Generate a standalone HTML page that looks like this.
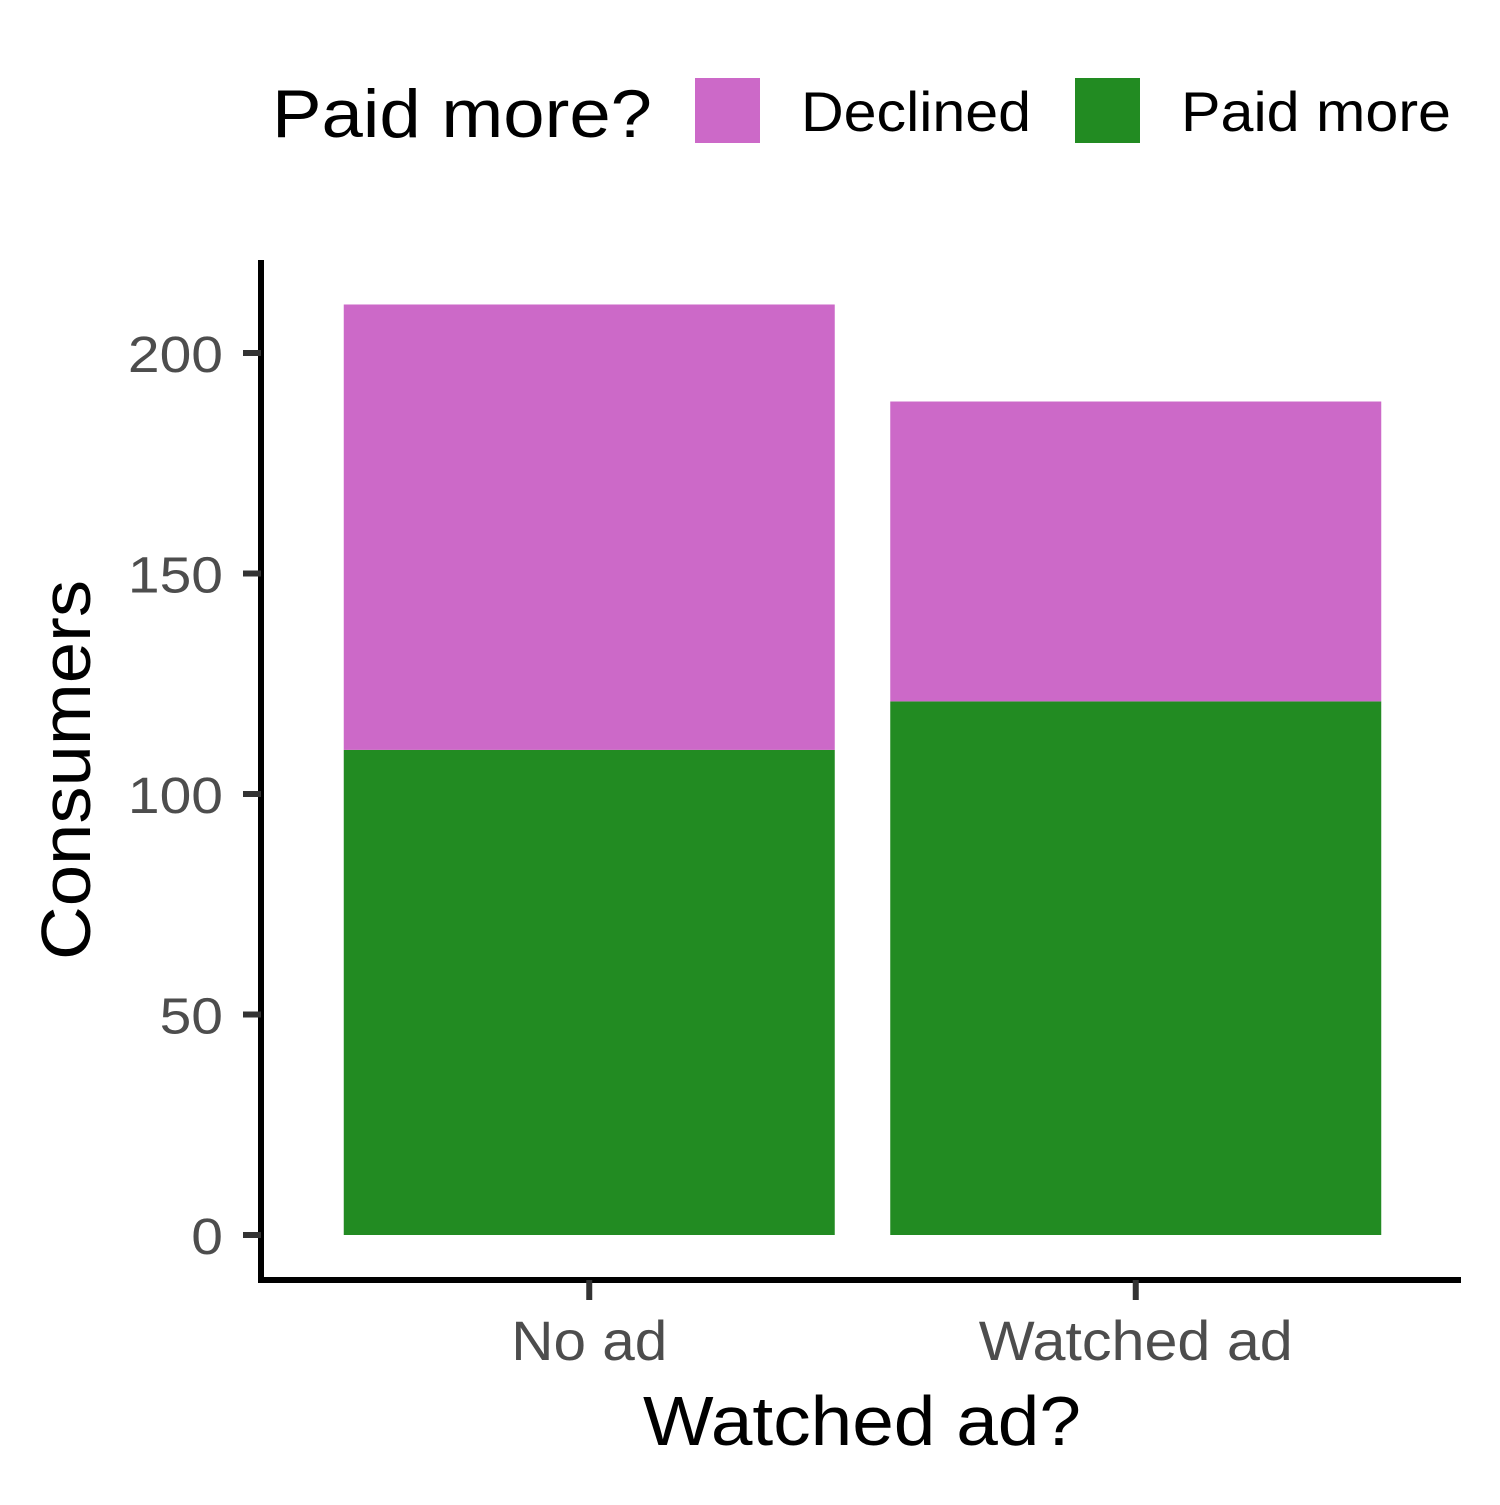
<!DOCTYPE html>
<html><head><meta charset="utf-8"><style>
html,body{margin:0;padding:0;background:#fff}
svg text{font-family:"Liberation Sans",Arial,sans-serif}
</style></head><body>
<svg id="chart" width="1500" height="1500" viewBox="0 0 1500 1500" xmlns="http://www.w3.org/2000/svg">
<g>
<text x="272" y="137" font-size="68" textLength="380" lengthAdjust="spacingAndGlyphs" fill="#000">Paid more?</text>
<rect x="695" y="78" width="65" height="65" fill="#CC69C8"/>
<text x="801" y="131" font-size="56" textLength="230" lengthAdjust="spacingAndGlyphs" fill="#000">Declined</text>
<rect x="1075" y="78" width="65" height="65" fill="#228B22"/>
<text x="1181" y="131" font-size="56" textLength="270" lengthAdjust="spacingAndGlyphs" fill="#000">Paid more</text>
</g>
<g id="bars"></g>
<g id="axes"></g>
<text x="862" y="1445" font-size="70" text-anchor="middle" textLength="438" lengthAdjust="spacingAndGlyphs" fill="#000">Watched ad?</text>
<text transform="translate(90,770) rotate(-90)" font-size="70" text-anchor="middle" textLength="380" lengthAdjust="spacingAndGlyphs" fill="#000">Consumers</text>
</svg>
<script>
const categories = ["No ad", "Watched ad"];
const paidMore = [110, 121];
const declined = [101, 68];
const yTicks = [0, 50, 100, 150, 200];

const NS = "http://www.w3.org/2000/svg";
const y0 = 1235, pxPerUnit = 4.41;
function yScale(v){ return y0 - v * pxPerUnit; }
const xLeft = 261, bandStart = 316, bandStep = 546.5, barW = 491;
function xCenter(i){ return bandStart + bandStep * (i + 0.5); }

const bars = document.getElementById('bars');
function rect(x,y,w,h,fill){
  const r = document.createElementNS(NS,'rect');
  r.setAttribute('x',x); r.setAttribute('y',y); r.setAttribute('width',w); r.setAttribute('height',h); r.setAttribute('fill',fill);
  return r;
}
categories.forEach((c,i)=>{
  const x = xCenter(i) - barW/2;
  const g = rect(x, yScale(paidMore[i]), barW, paidMore[i]*pxPerUnit, '#228B22');
  
  
  bars.appendChild(g);
  const top = paidMore[i] + declined[i];
  const d = rect(x, yScale(top), barW, declined[i]*pxPerUnit, '#CC69C8');
  
  
  bars.appendChild(d);
});

const axes = document.getElementById('axes');
function line(x1,y1,x2,y2,stroke,w){
  const l = document.createElementNS(NS,'line');
  l.setAttribute('x1',x1); l.setAttribute('y1',y1); l.setAttribute('x2',x2); l.setAttribute('y2',y2);
  l.setAttribute('stroke',stroke); l.setAttribute('stroke-width',w);
  return l;
}
function text(x,y,s,anchor,size,fill,len){
  const t = document.createElementNS(NS,'text');
  t.setAttribute('x',x); t.setAttribute('y',y); t.setAttribute('text-anchor',anchor);
  t.setAttribute('font-size',size); t.setAttribute('fill',fill); t.textContent = s;
  if(len){ t.setAttribute('textLength',len); t.setAttribute('lengthAdjust','spacingAndGlyphs'); }
  return t;
}
const yAxis = line(xLeft, 260, xLeft, 1282, '#000', 6);


axes.appendChild(yAxis);
const xAxis = line(258, 1280, 1461, 1280, '#000', 6);


axes.appendChild(xAxis);
yTicks.forEach(v=>{
  const y = yScale(v);
  const t = line(243, y, xLeft, y, '#333', 6);
  
  
  axes.appendChild(t);
  const s = String(v);
  const l = text(223, y + 19, s, 'end', 51, '#4d4d4d', s.length * 31.7);
  
  
  axes.appendChild(l);
});
const xLabelLens = [156, 314];
categories.forEach((c,i)=>{
  const x = xCenter(i);
  const t = line(x, 1280, x, 1300, '#333', 6);
  
  
  axes.appendChild(t);
  const l = text(x, 1360, c, 'middle', 56, '#4d4d4d', xLabelLens[i]);
  
  
  axes.appendChild(l);
});
</script>
</body></html>
